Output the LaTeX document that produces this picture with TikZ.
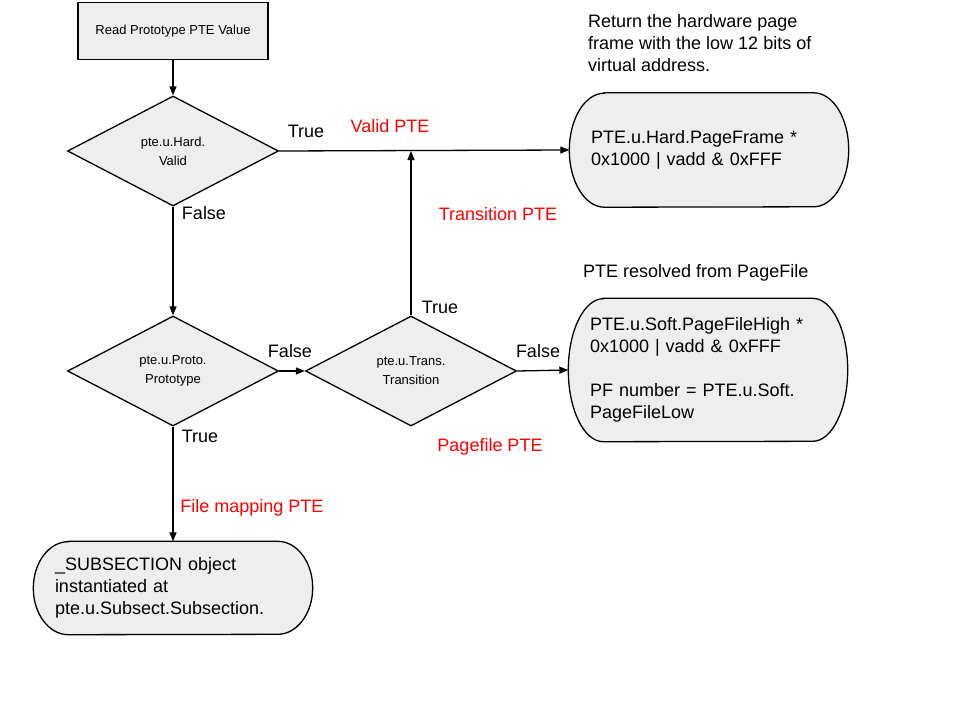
\documentclass[tikz,border=0pt]{standalone}
\usepackage{fontspec}
\setmainfont{Liberation Sans}
\usetikzlibrary{shapes.geometric,arrows.meta,backgrounds}

\definecolor{boxgray}{HTML}{EEEEEE}
\definecolor{pteRed}{HTML}{FF0000}

\tikzset{
  bigtext/.style={font=\fontsize{18}{22}\selectfont},
  smalltext/.style={font=\fontsize{13}{19}\selectfont},
  startbox/.style={draw, fill=boxgray, line width=1.3pt, minimum width=190pt,
    minimum height=57pt, smalltext},
  decision/.style={diamond, draw, fill=boxgray, line width=1.3pt, inner sep=0pt,
    minimum width=211pt, minimum height=110pt, align=center, smalltext},
  result/.style={rectangle, inner xsep=21.5pt, inner ysep=0pt, text width=236pt,
    align=left, bigtext},
  outline/.style={draw, fill=boxgray, line width=1.3pt},
  flow/.style={line width=1.3pt, -{Triangle[length=9pt,width=7pt]}},
  answer/.style={bigtext, inner sep=0pt},
  kind/.style={bigtext, inner sep=0pt, text=pteRed},
}

\begin{document}
\begin{tikzpicture}[x=1pt, y=-1pt]
    \useasboundingbox (0,0) rectangle (960,720);

    % 1) Start box and the three tests
    \node[startbox] (read) at (173,31) {Read Prototype PTE Value};
    \node[decision] (valid) at (173,151) {pte.u.Hard.\\Valid};
    \node[decision] (proto) at (173,371) {pte.u.Proto.\\Prototype};
    \node[decision] (trans) at (411,371) {pte.u.Trans.\\Transition};

    % 2) The three outcomes
    \node[result, minimum height=114pt] (hard) at (709,150)
      {PTE.u.Hard.PageFrame *\\0x1000 | vadd \& 0xFFF};
    \node[result, minimum height=143pt] (soft) at (708,370)
      {PTE.u.Soft.PageFileHigh *\\0x1000 | vadd \& 0xFFF\\[22pt]PF number = PTE.u.Soft.\\PageFileLow};
    \node[result, minimum height=93pt] (subsect) at (173,588)
      {\_SUBSECTION object\\instantiated at\\pte.u.Subsect.Subsection.};

    % rounded ends behind the outcome texts
    \begin{scope}[on background layer]
      \foreach \res/\half in {hard/57, soft/71.5, subsect/46.5} {
        \draw[outline] ([xshift=35pt]\res.north west) -- ([xshift=-35pt]\res.north east)
          arc[start angle=90, end angle=-90, x radius=35pt, y radius=\half pt]
          -- ([xshift=35pt]\res.south west)
          arc[start angle=270, end angle=90, x radius=35pt, y radius=\half pt] -- cycle;
      }
    \end{scope}

    % 3) Notes above the outcomes
    \node[bigtext, anchor=west, align=left, inner sep=0pt] (hardnote) at (588,43)
      {Return the hardware page\\frame with the low 12 bits of\\virtual address.};
    \node[bigtext, anchor=west, inner sep=0pt] (softnote) at (583,273)
      {PTE resolved from PageFile};

    % 4) Connectors
    \coordinate (join) at (trans.north |- valid.east);
    \draw[flow] (read) -- (valid);
    \draw[flow] (valid.east) -- (hard.west);
    \draw[flow] (valid.south) -- (proto.north);
    \draw[flow] (proto.east) -- (trans.west);
    \draw[flow] (trans.north) -- (join);
    \draw[flow] (trans.east) -- (soft.west);
    \draw[flow] (proto.south) -- (subsect.north);

    % 5) Branch labels
    \node[answer] (t1) at (306,131) {True};
    \node[answer] (f1) at (204,213) {False};
    \node[answer] (f2) at (290,351) {False};
    \node[answer] (t2) at (440,307) {True};
    \node[answer] (f3) at (538,351) {False};
    \node[answer] (t3) at (200,436) {True};

    % 6) Kinds of PTE in red
    \node[kind] (validpte) at (390,126) {Valid PTE};
    \node[kind] (transpte) at (498,214) {Transition PTE};
    \node[kind] (pagepte) at (490,447) {Pagefile PTE};
    \node[kind] (filepte) at (252,508) {File mapping PTE};
\end{tikzpicture}
\end{document}
